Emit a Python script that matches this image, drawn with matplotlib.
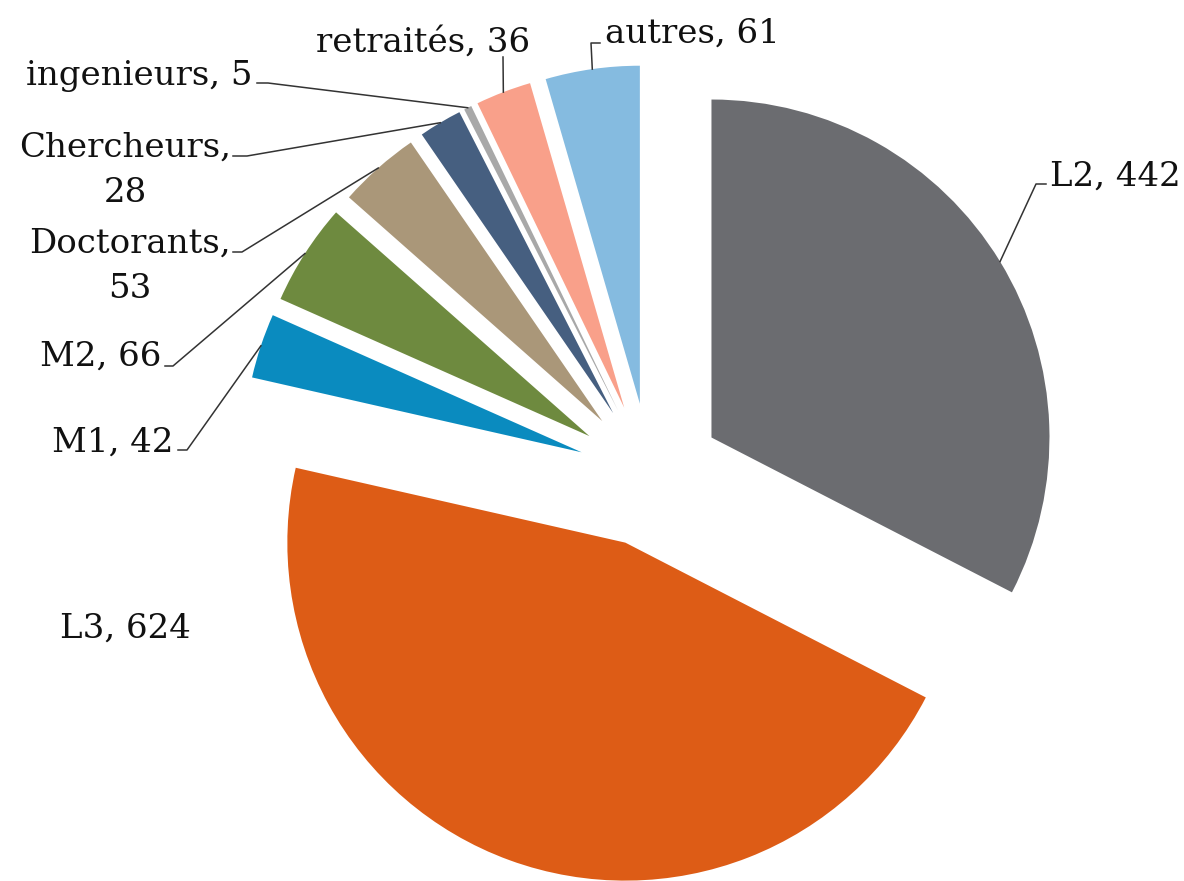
import numpy as np
import matplotlib
matplotlib.use("Agg")
import matplotlib.pyplot as plt

# data
categories = ["L2", "L3", "M1", "M2", "Doctorants", "Chercheurs",
              "ingenieurs", "retraités", "autres"]
values = [442, 624, 42, 66, 53, 28, 5, 36, 61]
colors = ["#6b6c70", "#dd5c16", "#0a8bbf", "#6e8a3f", "#aa9779",
          "#465f80", "#a8a8a8", "#f9a08a", "#85bbe0"]

W, H = 1184, 881
CX, CY, R = 650, 475, 338   # pie centre / radius in pixels
EXPL = 0.213


def px(x, y):
    """pixel -> data coords (pie radius = 1)"""
    return (x - CX) / R, (CY - y) / R


fig = plt.figure(figsize=(W / 100, H / 100), dpi=100)
ax = fig.add_axes([0, 0, 1, 1])
wedges, _ = ax.pie(values, colors=colors, startangle=90, counterclock=False,
                   explode=[EXPL] * len(values), radius=1,
                   wedgeprops=dict(linewidth=0))
ax.set_xlim(-CX / R, (W - CX) / R)
ax.set_ylim(-(H - CY) / R, CY / R)
ax.set_aspect("auto")
ax.axis("off")

# label layout: (text x, baseline y, ha, bend point or None, line end x)
layout = {
    "L2":         (1050, 186, "left",  (1036, 184), 1046),
    "L3":         (60,   638, "left",  None, None),
    "M1":         (174,  452, "right", (187, 450), 178),
    "M2":         (161,  366, "right", (173, 366), 165),
    "Doctorants": (231,  253, "right", (242, 252), 233),
    "Chercheurs": (231,  157, "right", (247, 156), 233),
    "ingenieurs": (252,  85,  "right", (268, 83), 257),
    "retraités":  (530,  52,  "right", (503, 57), None),
    "autres":     (605,  43,  "left",  (591, 43), 600),
}
two_line = {"Doctorants", "Chercheurs"}

font = dict(family="DejaVu Serif", fontsize=24.5, color="#111111")
lc = dict(color="#333333", lw=1.1)

for w, name, v in zip(wedges, categories, values):
    tx, ty, ha, bend, lend = layout[name]
    # anchor on outer arc at mid angle of the exploded wedge
    mid = np.radians((w.theta1 + w.theta2) / 2)
    cx0, cy0 = w.center
    anchor = (cx0 + w.r * np.cos(mid), cy0 + w.r * np.sin(mid))
    if bend is not None:
        pts = [anchor, px(*bend)]
        if lend is not None:
            pts.append(px(lend, bend[1]))
        xs, ys = zip(*pts)
        ax.plot(xs, ys, **lc)
    if name in two_line:
        # first line right-aligned, value centred below it
        first = f"{name},"
        t = ax.text(*px(tx, ty), first, ha="right", va="baseline", **font)
        fig.canvas.draw()
        bb = t.get_window_extent()
        xc = (bb.x0 + bb.x1) / 2
        ax.text(*px(xc, ty + 45), f"{v}", ha="center", va="baseline", **font)
    else:
        ax.text(*px(tx, ty), f"{name}, {v}", ha=ha, va="baseline", **font)

fig.savefig("out.png", dpi=100)
